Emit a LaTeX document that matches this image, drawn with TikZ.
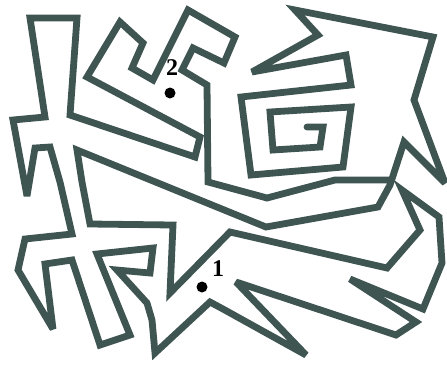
\documentclass[tikz,border=0pt]{standalone}
\usepackage{fontspec}
\setmainfont{Liberation Serif}
\definecolor{wallc}{HTML}{3E5552}
\begin{document}
\begin{tikzpicture}[x=1pt,y=-1pt,
  wall/.style={draw=wallc, line width=6.8pt, line join=miter, miter limit=4, line cap=round},
  dotmark/.style={circle, fill=black, inner sep=0pt, minimum size=11pt},
  lab/.style={font=\fontsize{24}{24}\selectfont\bfseries, inner sep=0pt}]
\useasboundingbox (0,0) rectangle (447,365);
\draw[wall] (307,127) -- (323,127) -- (320,147) -- (273,150) -- (270,112) -- (351,107) -- (343,167) -- (251,175) -- (241,97) -- (351,85) -- (346,55) -- (252,72) -- (318,35) -- (295,10) -- (433,37) -- (414,100) -- (445,183) -- (404,142) -- (390,185) -- (378,207) -- (266,227) -- (77,150) -- (82,182) -- (90,224) -- (173,225) -- (170,293) -- (230,232) -- (387,268) -- (420,230) -- (402,190) -- (439,217) -- (442,263) -- (423,309) -- (350,279) -- (416,322) -- (396,335) -- (236,282) -- (306,355) -- (223,309) -- (210,302) -- (155,353) -- (152,320) -- (147,303) -- (117,270) -- (150,273) -- (153,248) -- (97,254) -- (130,335) -- (100,345) -- (72,260) -- (45,264) -- (53,329) -- (18,270) -- (25,239) -- (72,234) -- (60,182) -- (50,147) -- (35,148) -- (27,196) -- (13,120) -- (45,117) -- (30,18) -- (77,18) -- (70,115) -- (195,157) -- (200,137) -- (87,77) -- (120,22) -- (143,43) -- (132,68) -- (153,80) -- (188,10) -- (235,37) -- (224,63) -- (193,48) -- (182,70) -- (207,85) -- (208,182) -- (267,198) -- (335,180) -- (391,180);
\node[dotmark] (p2) at (170,93) {};
\node[lab] (l2) at (172,68) {2};
\node[dotmark] (p1) at (202,287) {};
\node[lab] (l1) at (218,269) {1};
\end{tikzpicture}
\end{document}
